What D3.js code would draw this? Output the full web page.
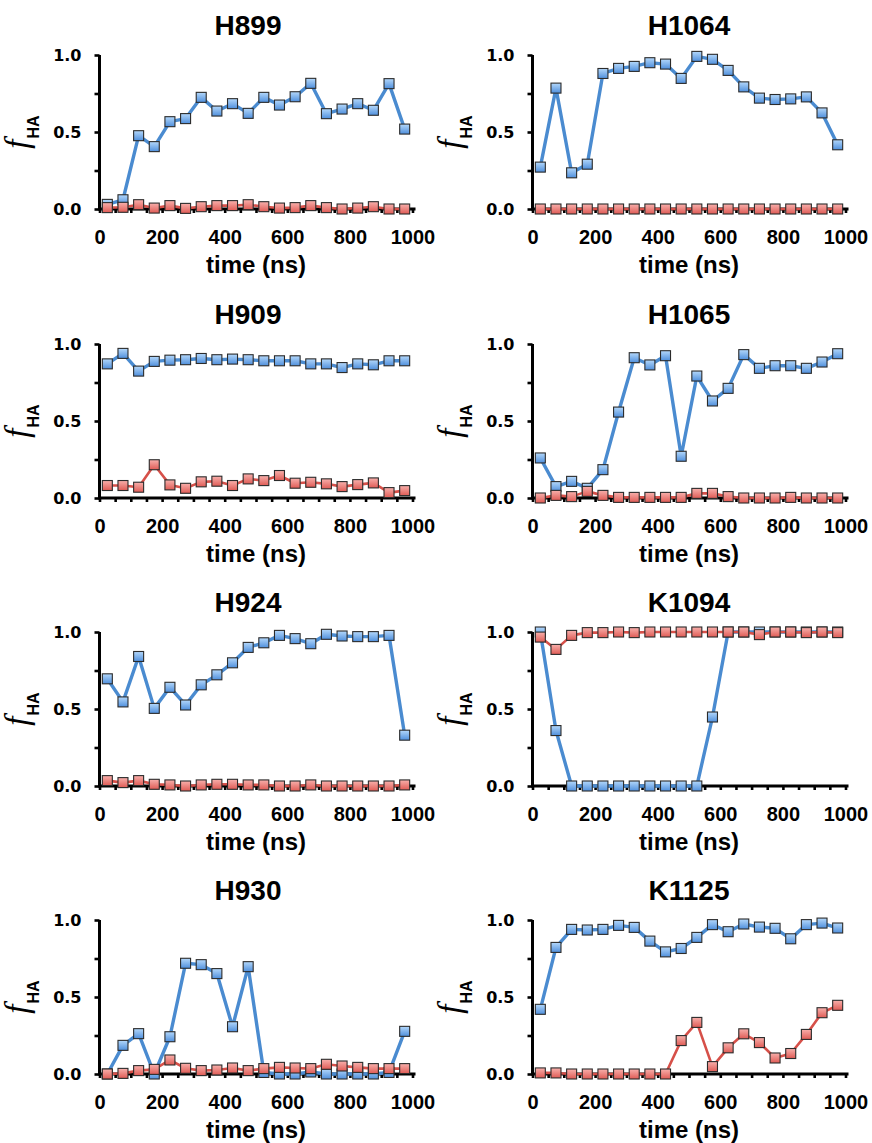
<!DOCTYPE html>
<html>
<head>
<meta charset="utf-8">
<script src="https://cdn.jsdelivr.net/npm/d3@7"></script>
<style>
  html, body { margin: 0; padding: 0; background: #fff; }
  svg { display: block; }
</style>
</head>
<body>
<svg id="chart" width="872" height="1143"></svg>
<script>
// Sampling times (ns), one value per 50 ns window
const times = [25, 75, 125, 175, 225, 275, 325, 375, 425, 475,
               525, 575, 625, 675, 725, 775, 825, 875, 925, 975];

const xTickLabels = [0, 200, 400, 600, 800, 1000];
const yTickLabels = [0, 0.5, 1.0];

// Residue names, in reading order (row by row)
const residues = ["H899", "H1064", "H909", "H1065", "H924", "K1094", "H930", "K1125"];

// f_HA per residue: blue series and red series
const h899Blue  = [0.03, 0.06, 0.476, 0.405, 0.567, 0.587, 0.725, 0.636, 0.684, 0.621, 0.725, 0.675, 0.729, 0.816, 0.619, 0.649, 0.684, 0.641, 0.814, 0.519];
const h899Red   = [0.009, 0.011, 0.028, 0.006, 0.022, 0.004, 0.015, 0.022, 0.022, 0.028, 0.015, 0.006, 0.009, 0.022, 0.009, 0, 0.006, 0.015, 0, 0];

const h1064Blue = [0.272, 0.785, 0.235, 0.291, 0.880, 0.913, 0.926, 0.950, 0.941, 0.848, 0.991, 0.972, 0.900, 0.793, 0.720, 0.711, 0.715, 0.728, 0.624, 0.417];
const h1064Red  = [0, 0, 0, 0, 0, 0, 0, 0, 0, 0, 0, 0, 0, 0, 0, 0, 0, 0, 0, 0];

const h909Blue  = [0.871, 0.939, 0.824, 0.887, 0.895, 0.898, 0.906, 0.898, 0.902, 0.898, 0.891, 0.891, 0.891, 0.871, 0.871, 0.847, 0.871, 0.865, 0.891, 0.891];
const h909Red   = [0.081, 0.081, 0.070, 0.216, 0.085, 0.063, 0.105, 0.109, 0.081, 0.124, 0.113, 0.146, 0.096, 0.102, 0.092, 0.074, 0.087, 0.098, 0.035, 0.048];

const h1065Blue = [0.260, 0.074, 0.108, 0.063, 0.184, 0.558, 0.911, 0.864, 0.924, 0.271, 0.792, 0.630, 0.712, 0.931, 0.842, 0.859, 0.859, 0.842, 0.883, 0.937];
const h1065Red  = [0, 0.017, 0.009, 0.043, 0.017, 0.004, 0.004, 0.004, 0.004, 0.004, 0.030, 0.030, 0.009, 0, 0, 0, 0.004, 0, 0, 0];

const h924Blue  = [0.696, 0.546, 0.841, 0.504, 0.641, 0.526, 0.657, 0.722, 0.800, 0.900, 0.930, 0.978, 0.957, 0.924, 0.985, 0.974, 0.970, 0.970, 0.978, 0.330];
const h924Red   = [0.035, 0.022, 0.035, 0.011, 0.007, 0, 0.007, 0.011, 0.011, 0.007, 0.007, 0, 0, 0.007, 0, 0, 0, 0, 0, 0.007];

const k1094Blue = [1.0, 0.36, 0, 0, 0, 0, 0, 0, 0, 0, 0, 0.448, 1.0, 1.0, 1.0, 1.0, 1.0, 1.0, 1.0, 1.0];
const k1094Red  = [0.967, 0.887, 0.978, 0.996, 0.996, 1.0, 0.996, 1.0, 1.0, 1.0, 1.0, 1.0, 1.0, 1.0, 0.983, 1.0, 1.0, 0.996, 1.0, 0.996];

const h930Blue  = [0, 0.186, 0.262, 0, 0.242, 0.719, 0.710, 0.652, 0.307, 0.697, 0.010, 0, 0, 0.013, 0, 0, 0, 0, 0.010, 0.277];
const h930Red   = [0, 0.004, 0.022, 0.030, 0.091, 0.037, 0.022, 0.026, 0.039, 0.022, 0.035, 0.043, 0.039, 0.035, 0.063, 0.052, 0.043, 0.035, 0.035, 0.035];

const k1125Blue = [0.420, 0.822, 0.939, 0.935, 0.939, 0.965, 0.952, 0.863, 0.793, 0.815, 0.887, 0.970, 0.924, 0.974, 0.954, 0.946, 0.878, 0.970, 0.980, 0.948];
const k1125Red  = [0.007, 0.007, 0, 0, 0, 0, 0, 0, 0, 0.217, 0.335, 0.048, 0.170, 0.261, 0.204, 0.104, 0.133, 0.257, 0.398, 0.446];

const blueSeries = [h899Blue, h1064Blue, h909Blue, h1065Blue, h924Blue, k1094Blue, h930Blue, k1125Blue];
const redSeries  = [h899Red,  h1064Red,  h909Red,  h1065Red,  h924Red,  k1094Red,  h930Red,  k1125Red];

// ---- layout ----
const colLeft  = [99.5, 532.5];
const colTitleX = [248, 689];
const rowTop   = [55, 344, 632, 920];
const plotW = 313, plotH = 154;

const svg = d3.select("#chart");

// gradient fills for the square markers
const defs = svg.append("defs");
function grad(id, top, bottom) {
  const g = defs.append("linearGradient").attr("id", id)
    .attr("x1", 0).attr("y1", 0).attr("x2", 0).attr("y2", 1);
  g.append("stop").attr("offset", "0%").attr("stop-color", top);
  g.append("stop").attr("offset", "100%").attr("stop-color", bottom);
}
grad("gBlue", "#b4d8fb", "#4f8fdc");
grad("gRed", "#f8b0ac", "#df5b55");

const x = d3.scaleLinear().domain([0, 1000]).range([0, plotW]);
const y = d3.scaleLinear().domain([0, 1]).range([plotH, 0]);

const line = d3.line()
  .x((d, i) => x(times[i]))
  .y(d => y(d));

const seriesStyle = [
  { key: "blue", stroke: "#4a8bd0", width: 3.4, fill: "url(#gBlue)" },
  { key: "red",  stroke: "#d65049", width: 2.6, fill: "url(#gRed)" }
];

const markerSize = 10;

residues.forEach((name, k) => {
  const col = k % 2, row = Math.floor(k / 2);
  const g = svg.append("g")
    .attr("transform", `translate(${colLeft[col]},${rowTop[row]})`);

  // title
  svg.append("text")
    .attr("x", colTitleX[col])
    .attr("y", rowTop[row] - 20)
    .attr("text-anchor", "middle")
    .style("font-family", "'Liberation Sans', Arial, sans-serif")
    .style("font-weight", "bold")
    .style("font-size", "28px")
    .attr("fill", "#000")
    .text(name);

  // x axis: minor ticks every 50 ns, labels every 200 ns
  const xAxis = d3.axisBottom(x)
    .tickValues(d3.range(0, 1001, 50))
    .tickSize(4)
    .tickSizeOuter(0)
    .tickPadding(17)
    .tickFormat(d => xTickLabels.includes(d) ? String(d) : "");
  const gx = g.append("g").attr("transform", `translate(0,${plotH})`).call(xAxis);
  gx.select(".domain")
    .attr("d", `M-1.5,0H${plotW + 3}`)
    .attr("stroke", "#000").attr("stroke-width", 3);
  gx.selectAll(".tick line").attr("stroke", "#000").attr("stroke-width", 2.6);
  gx.selectAll(".tick text")
    .style("font-family", "'Liberation Sans', Arial, sans-serif")
    .style("font-weight", "bold")
    .style("font-size", "20px")
    .attr("fill", "#000");

  // y axis: ticks every 0.25, labels at 0, 0.5, 1.0
  const yAxis = d3.axisLeft(y)
    .tickValues([0, 0.25, 0.5, 0.75, 1.0])
    .tickSize(5)
    .tickSizeOuter(0)
    .tickPadding(13)
    .tickFormat(d => yTickLabels.includes(d) ? d3.format(".1f")(d) : "");
  const gy = g.append("g").call(yAxis);
  gy.select(".domain")
    .attr("d", `M0,0V${plotH}`)
    .attr("stroke", "#000").attr("stroke-width", 3);
  gy.selectAll(".tick line").attr("stroke", "#000").attr("stroke-width", 2.6);
  gy.selectAll(".tick text")
    .style("font-family", "'DejaVu Sans', sans-serif")
    .style("font-weight", "bold")
    .style("font-size", "16px")
    .attr("fill", "#000");

  // x axis title
  g.append("text")
    .attr("x", plotW / 2)
    .attr("y", plotH + 64)
    .attr("text-anchor", "middle")
    .style("font-family", "'Liberation Sans', Arial, sans-serif")
    .style("font-weight", "bold")
    .style("font-size", "24px")
    .attr("fill", "#000")
    .text("time (ns)");

  // y axis title: italic f with subscript HA
  const yl = g.append("text")
    .attr("transform", `translate(-72,${plotH / 2}) rotate(-90)`)
    .attr("text-anchor", "middle")
    .attr("fill", "#000");
  yl.append("tspan")
    .style("font-family", "'Liberation Serif', 'Times New Roman', serif")
    .style("font-style", "italic")
    .style("font-size", "33px")
    .text("f");
  yl.append("tspan")
    .attr("dy", 11)
    .attr("dx", 1)
    .style("font-family", "'Liberation Sans', Arial, sans-serif")
    .style("font-weight", "bold")
    .style("font-size", "16px")
    .text("HA");

  // series: blue drawn first, red on top
  [blueSeries[k], redSeries[k]].forEach((vals, s) => {
    const st = seriesStyle[s];
    g.append("path")
      .datum(vals)
      .attr("d", line)
      .attr("fill", "none")
      .attr("stroke", st.stroke)
      .attr("stroke-width", st.width)
      .attr("stroke-linejoin", "round");
    g.append("g").selectAll("rect")
      .data(vals)
      .join("rect")
      .attr("x", (d, i) => x(times[i]) - markerSize / 2)
      .attr("y", d => y(d) - markerSize / 2)
      .attr("width", markerSize)
      .attr("height", markerSize)
      .attr("fill", st.fill)
      .attr("stroke", "#2b2b2b")
      .attr("stroke-width", 1.1);
  });
});
</script>
</body>
</html>
